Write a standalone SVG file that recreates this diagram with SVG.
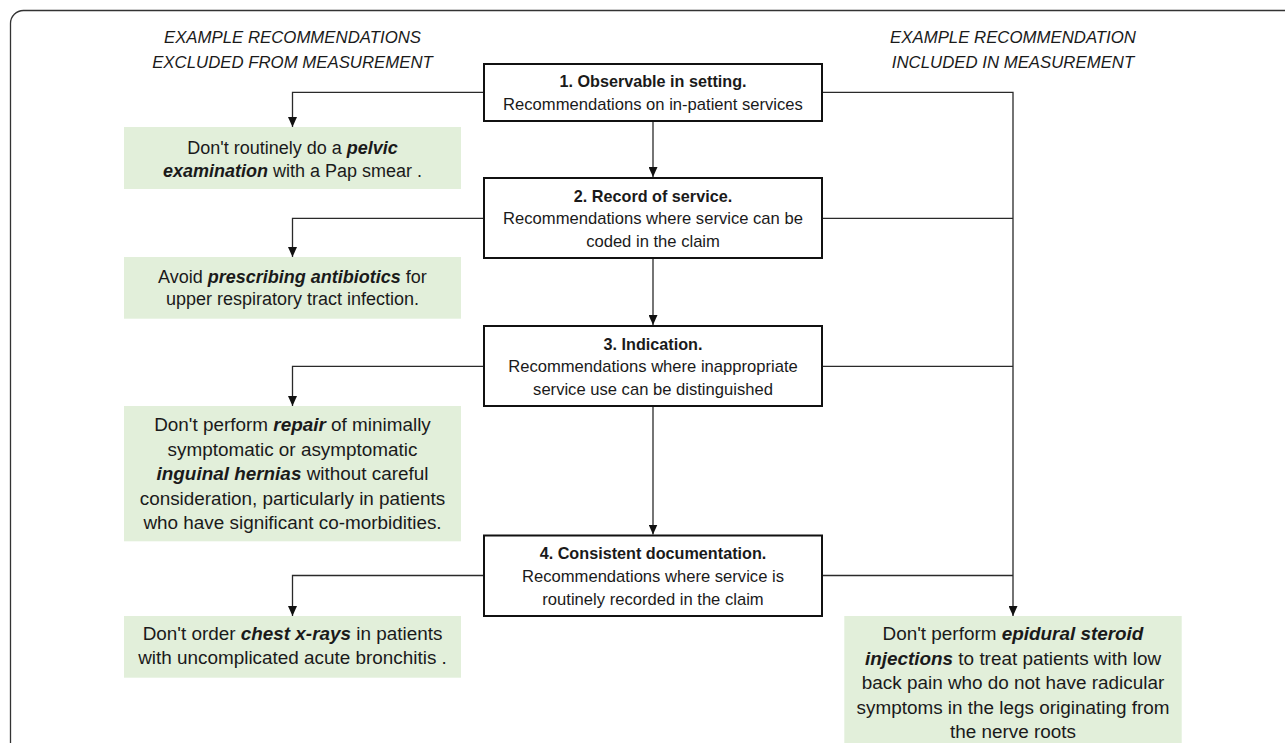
<svg xmlns="http://www.w3.org/2000/svg" width="1285" height="743" viewBox="0 0 1285 743">
<style>
text{font-family:"Liberation Sans",Arial,sans-serif;fill:#1a1a1a;text-anchor:middle}
.hdr{font-size:16.8px;font-style:italic}
.ttl{font-size:16.2px;font-weight:bold}
.bdy{font-size:16.6px}
.g18{font-size:18px}
.g19{font-size:18.9px}
.em{font-weight:bold;font-style:italic}
.box{fill:#fff;stroke:#111;stroke-width:2}
.grn{fill:#e2efda}
.con{fill:none;stroke:#2a2a2a;stroke-width:1.3}
</style>
<defs>
<marker id="arr" markerUnits="userSpaceOnUse" markerWidth="10" markerHeight="9" refX="10" refY="4.5" orient="auto">
<path d="M0,0 L10,4.5 L0,9 z" fill="#111"/>
</marker>
</defs>
<rect id="frame" x="10.5" y="10.5" width="1300" height="760" rx="13" fill="none" stroke="#333" stroke-width="1.3"/>
<g id="header-left">
<text class="hdr" x="292.5" y="43.3">EXAMPLE RECOMMENDATIONS</text>
<text class="hdr" x="292.5" y="68.3">EXCLUDED FROM MEASUREMENT</text>
</g>
<g id="header-right">
<text class="hdr" x="1013" y="43.3">EXAMPLE RECOMMENDATION</text>
<text class="hdr" x="1013" y="68.3">INCLUDED IN MEASUREMENT</text>
</g>
<g id="connectors">
<path class="con" d="M484,92.3 H292.5 V127" marker-end="url(#arr)"/>
<path class="con" d="M822,92.3 H1013 V616" marker-end="url(#arr)"/>
<path class="con" d="M484,218.3 H292.5 V257" marker-end="url(#arr)"/>
<path class="con" d="M822,218.3 H1013"/>
<path class="con" d="M484,366.3 H292.5 V406" marker-end="url(#arr)"/>
<path class="con" d="M822,366.3 H1013"/>
<path class="con" d="M484,575.5 H292.5 V616" marker-end="url(#arr)"/>
<path class="con" d="M822,575.5 H1013"/>
<path class="con" d="M653,121 V177" marker-end="url(#arr)"/>
<path class="con" d="M653,258 V325" marker-end="url(#arr)"/>
<path class="con" d="M653,406 V534.5" marker-end="url(#arr)"/>
</g>
<g id="box1">
<rect class="box" x="484" y="64" width="338" height="57"/>
<text class="ttl" x="653" y="87.3">1. Observable in setting.</text>
<text class="bdy" x="653" y="110">Recommendations on in-patient services</text>
</g>
<g id="box2">
<rect class="box" x="484" y="178" width="338" height="80"/>
<text class="ttl" x="653" y="201.7">2. Record of service.</text>
<text class="bdy" x="653" y="224.2">Recommendations where service can be</text>
<text class="bdy" x="653" y="246.7">coded in the claim</text>
</g>
<g id="box3">
<rect class="box" x="484" y="326" width="338" height="80"/>
<text class="ttl" x="653" y="349.7">3. Indication.</text>
<text class="bdy" x="653" y="372.2">Recommendations where inappropriate</text>
<text class="bdy" x="653" y="394.7">service use can be distinguished</text>
</g>
<g id="box4">
<rect class="box" x="484" y="535.5" width="338" height="80.5"/>
<text class="ttl" x="653" y="559">4. Consistent documentation.</text>
<text class="bdy" x="653" y="582">Recommendations where service is</text>
<text class="bdy" x="653" y="604.5">routinely recorded in the claim</text>
</g>
<g id="ex-pelvic">
<rect class="grn" x="124" y="127" width="337" height="62"/>
<text class="g18" x="292.5" y="154">Don't routinely do a <tspan class="em">pelvic</tspan></text>
<text class="g18" x="292.5" y="176.7"><tspan class="em">examination</tspan> with a Pap smear .</text>
</g>
<g id="ex-antibiotics">
<rect class="grn" x="124" y="257" width="337" height="61.7"/>
<text class="g18" x="292.5" y="282.7">Avoid <tspan class="em">prescribing antibiotics</tspan> for</text>
<text class="g18" x="292.5" y="305.3">upper respiratory tract infection.</text>
</g>
<g id="ex-hernia">
<rect class="grn" x="124" y="406" width="337" height="135.3"/>
<text class="g19" x="292.5" y="431.3">Don't perform <tspan class="em">repair</tspan> of minimally</text>
<text class="g19" x="292.5" y="455.5">symptomatic or asymptomatic</text>
<text class="g19" x="292.5" y="480"><tspan class="em">inguinal hernias</tspan> without careful</text>
<text class="g19" x="292.5" y="504.5">consideration, particularly in patients</text>
<text class="g19" x="292.5" y="528.8">who have significant co-morbidities.</text>
</g>
<g id="ex-xray">
<rect class="grn" x="124" y="616" width="337" height="61.7"/>
<text class="g19" x="292.5" y="640.3">Don't order <tspan class="em">chest x-rays</tspan> in patients</text>
<text class="g19" x="292.5" y="664.3">with uncomplicated acute bronchitis .</text>
</g>
<g id="ex-epidural">
<rect class="grn" x="844.3" y="616" width="337.4" height="140"/>
<text class="g19" x="1013" y="640.3">Don't perform <tspan class="em">epidural steroid</tspan></text>
<text class="g19" x="1013" y="664.7"><tspan class="em">injections</tspan> to treat patients with low</text>
<text class="g19" x="1013" y="689.2">back pain who do not have radicular</text>
<text class="g19" x="1013" y="713.7">symptoms in the legs originating from</text>
<text class="g19" x="1013" y="738">the nerve roots</text>
</g>
</svg>
